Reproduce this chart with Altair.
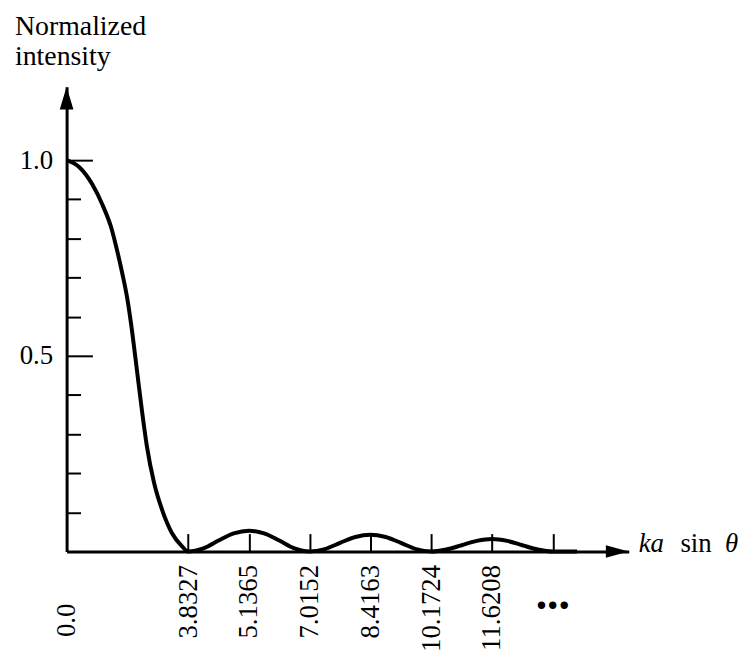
import altair as alt
import pandas as pd

# ---- data (x in schematic axis units: zeros drawn equally spaced) ----
curve_x = [0.00, 0.21, 0.42, 0.59, 0.74, 0.83, 0.92, 1.00, 1.08, 1.16, 1.24, 1.32, 1.44, 1.57, 1.73, 1.90, 2.00,
           2.25, 2.50, 2.75, 3.00, 3.25, 3.50, 3.75, 4.00,
           4.25, 4.50, 4.75, 5.00, 5.25, 5.50, 5.75, 6.00,
           6.25, 6.50, 6.75, 7.00, 7.25, 7.50, 7.75, 8.00, 8.40]
curve_y = [1.000, 0.982, 0.939, 0.886, 0.825, 0.770, 0.708, 0.645, 0.560, 0.460, 0.360, 0.270, 0.175, 0.107, 0.048, 0.013, 0.000,
           0.008, 0.028, 0.046, 0.053, 0.046, 0.028, 0.008, 0.000,
           0.006, 0.022, 0.037, 0.043, 0.037, 0.022, 0.006, 0.000,
           0.005, 0.016, 0.027, 0.032, 0.027, 0.016, 0.005, 0.000, 0.000]

x_label_pos = [0, 2, 3, 4, 5, 6, 7]
x_label_text = ["0.0", "3.8327", "5.1365", "7.0152", "8.4163", "10.1724", "11.6208"]
x_tick_pos = [2, 3, 4, 5, 6, 7, 8]
y_label_vals = [0.5, 1.0]
y_tick_vals = [0.1, 0.2, 0.3, 0.4, 0.5, 0.6, 0.7, 0.8, 0.9, 1.0]
x_max = 9.25
y_max = 1.188
ellipsis_pos = [8]

y_title = "Normalized\nintensity"
x_title_parts = ["ka", "sin", "θ"]

W, H = 566, 468
FONT = "Liberation Serif"

curve_df = pd.DataFrame({"x": curve_x, "y": curve_y})
xs = alt.Scale(domain=[0, x_max], nice=False, zero=False)
ys = alt.Scale(domain=[0, y_max], nice=False, zero=False)

label_expr = " : ".join(f"datum.value == {p} ? '{t}'" for p, t in zip(x_label_pos, x_label_text)) + " : ''"

curve = alt.Chart(curve_df).mark_line(color="black", strokeWidth=4, interpolate="monotone").encode(
    x=alt.X("x:Q", scale=xs, axis=alt.Axis(
        orient="bottom", values=x_label_pos, labelExpr=label_expr, labelAngle=270,
        labelFont=FONT, labelFontSize=27, labelColor="black",
        labelPadding={"condition": {"test": "datum.value == 0", "value": 52}, "value": 13},
        labelFlush=False, labelOverlap=False, ticks=False, tickSize=0,
        domain=True, domainColor="black", domainWidth=3, grid=False, title=None)),
    y=alt.Y("y:Q", scale=ys, axis=alt.Axis(
        orient="left", values=y_label_vals, format=".1f",
        labelFont=FONT, labelFontSize=27, labelColor="black", labelPadding=14,
        labelFlush=False, labelOverlap=False, ticks=False, tickSize=0,
        domain=True, domainColor="black", domainWidth=3, grid=False, title=None)),
)

ticks = alt.Chart(curve_df).mark_line(opacity=0).encode(
    x=alt.X("x:Q", scale=xs, axis=alt.Axis(
        orient="top", offset=-H, values=x_tick_pos, labels=False, tickSize=18, tickWidth=2,
        tickColor="black", domain=False, grid=False, title=None)),
    y=alt.Y("y:Q", scale=ys, axis=alt.Axis(
        orient="right", offset=-W, values=y_tick_vals, labels=False,
        tickSize={"condition": {"test": "datum.value == 0.5 || datum.value == 1", "value": 26}, "value": 14},
        tickWidth=2, tickColor="black", domain=False, grid=False, title=None)),
)

xarrow = alt.Chart(pd.DataFrame({"x": [x_max], "y": [0]})).mark_point(
    shape="M-2,-0.55L0,0L-2,0.55Z", size=529, filled=True, opacity=1, color="black", strokeWidth=0
).encode(x=alt.X("x:Q", scale=xs, axis=None), y=alt.Y("y:Q", scale=ys, axis=None))

yarrow = alt.Chart(pd.DataFrame({"x": [0], "y": [y_max]})).mark_point(
    shape="M-0.6,2L0,0L0.6,2Z", size=529, filled=True, opacity=1, color="black", strokeWidth=0
).encode(x=alt.X("x:Q", scale=xs, axis=None), y=alt.Y("y:Q", scale=ys, axis=None))

dots = alt.Chart(pd.DataFrame({"x": ellipsis_pos})).mark_text(
    text="...", font=FONT, fontSize=46, fontWeight="bold", align="center", baseline="alphabetic", color="black"
).encode(x=alt.X("x:Q", scale=xs, axis=None), y=alt.value(526))

ytitle = alt.Chart(pd.DataFrame({"t": [y_title]})).mark_text(
    font=FONT, fontSize=28, align="left", baseline="alphabetic", lineBreak="\n", lineHeight=30, color="black"
).encode(x=alt.value(-52), y=alt.value(-52), text="t:N")

xt1 = alt.Chart(pd.DataFrame({"t": [x_title_parts[0]]})).mark_text(
    font=FONT, fontSize=27, fontStyle="italic", align="left", baseline="alphabetic", color="black"
).encode(x=alt.value(576), y=alt.value(469), text="t:N")
xt2 = alt.Chart(pd.DataFrame({"t": [x_title_parts[1]]})).mark_text(
    font=FONT, fontSize=27, align="left", baseline="alphabetic", color="black"
).encode(x=alt.value(618), y=alt.value(469), text="t:N")
xt3 = alt.Chart(pd.DataFrame({"t": [x_title_parts[2]]})).mark_text(
    font=FONT, fontSize=27, fontStyle="italic", align="left", baseline="alphabetic", color="black"
).encode(x=alt.value(663), y=alt.value(469), text="t:N")

chart = alt.layer(curve, ticks, xarrow, yarrow, dots, ytitle, xt1, xt2, xt3).resolve_axis(
    x="independent", y="independent"
).properties(
    width=W, height=H,
    autosize=alt.AutoSizeParams(type="none"),
    padding={"left": 59, "top": 77, "right": 110, "bottom": 98},
    background="white",
).configure_view(stroke=None)

chart.save("out.html", embed_options={"renderer": "svg", "actions": False})
